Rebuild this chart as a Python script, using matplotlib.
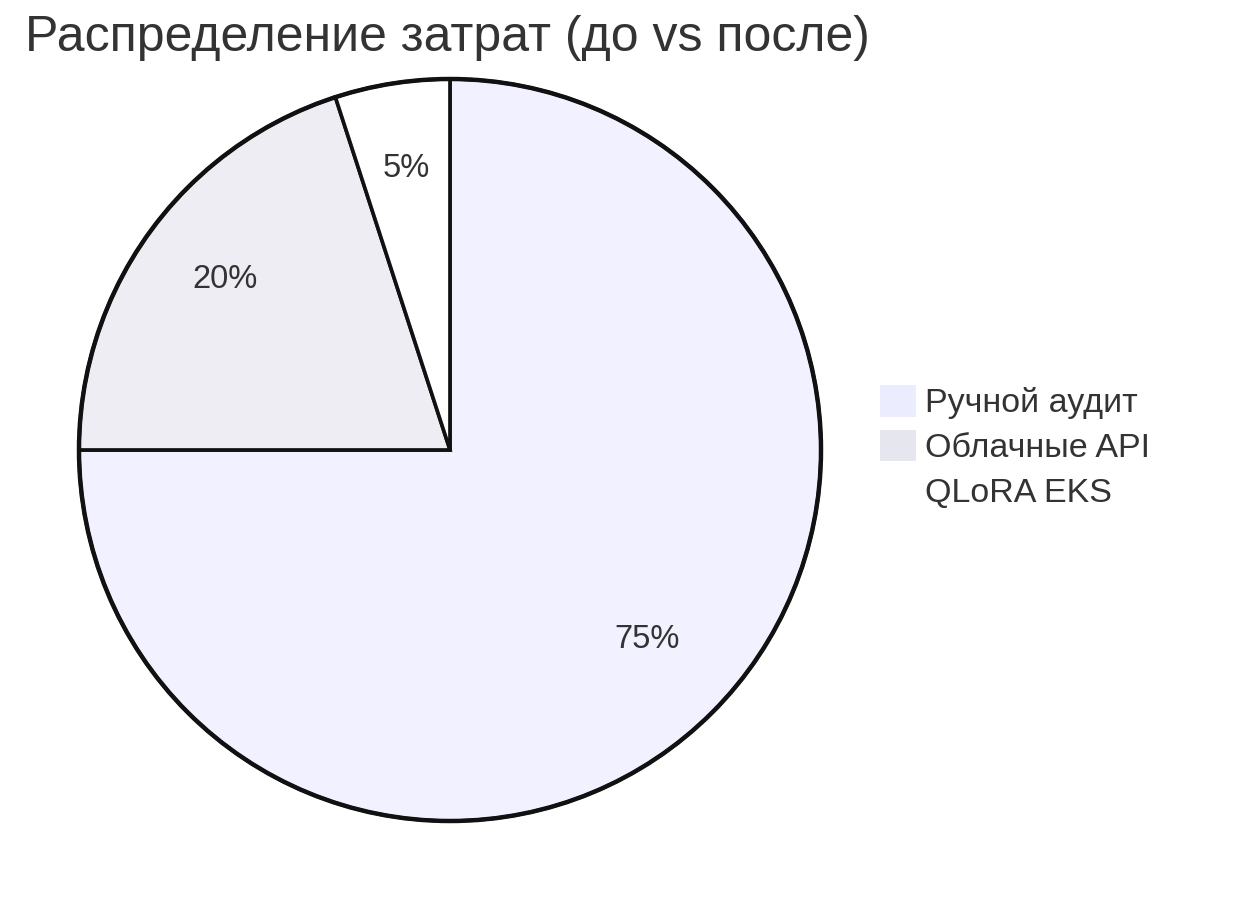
import matplotlib
matplotlib.use("Agg")
import matplotlib.pyplot as plt
from matplotlib.patches import Patch, Circle

plt.rcParams['font.family'] = ['Liberation Sans', 'DejaVu Sans']

title = "Распределение затрат (до vs после)"
categories = ["Ручной аудит", "Облачные API", "QLoRA EKS"]
values = [75, 20, 5]
legend_colors = ["#ECECFF", "#E6E6EE", "#FFFFFF"]
slice_alpha = 0.7

W, H = 1252, 900
fig = plt.figure(figsize=(W / 100, H / 100), dpi=100)
ax = fig.add_axes([0, 0, 1, 1])

cx, cy, r = 450, H - 450, 371
wedges, texts, autotexts = ax.pie(
    values, center=(cx, cy), radius=r, startangle=90, counterclock=False,
    autopct=lambda p: f"{p:.0f}%", pctdistance=0.75,
    wedgeprops=dict(edgecolor='#111111', linewidth=2.6),
    textprops=dict(fontsize=23.5, color='#333333'),
    frame=True)
for w, c in zip(wedges, legend_colors):
    rgb = matplotlib.colors.to_rgb(c)
    w.set_facecolor((*rgb, slice_alpha))
for t in autotexts:
    x, y = t.get_position()
    t.set_position((x, y + 7))
ax.set_xlim(0, W)
ax.set_ylim(0, H)
ax.set_aspect('equal')
ax.axis('off')
ax.add_patch(Circle((cx, cy), r, fill=False, edgecolor='#111111', linewidth=3.2, zorder=5))

ax.text(25, H - 38, title, fontsize=36, color='#333333', ha='left', va='center')

handles = [Patch(facecolor=c, edgecolor='none') for c in legend_colors]
leg = ax.legend(handles, categories, loc='upper left', bbox_to_anchor=(880, H - 385),
                bbox_transform=ax.transData, frameon=False, fontsize=24.5,
                handlelength=1.05, handleheight=1.05, handletextpad=0.28,
                labelspacing=0.3, borderpad=0, borderaxespad=0)
for t in leg.get_texts():
    t.set_color('#333333')

fig.savefig("out.png", dpi=100, facecolor='white')
